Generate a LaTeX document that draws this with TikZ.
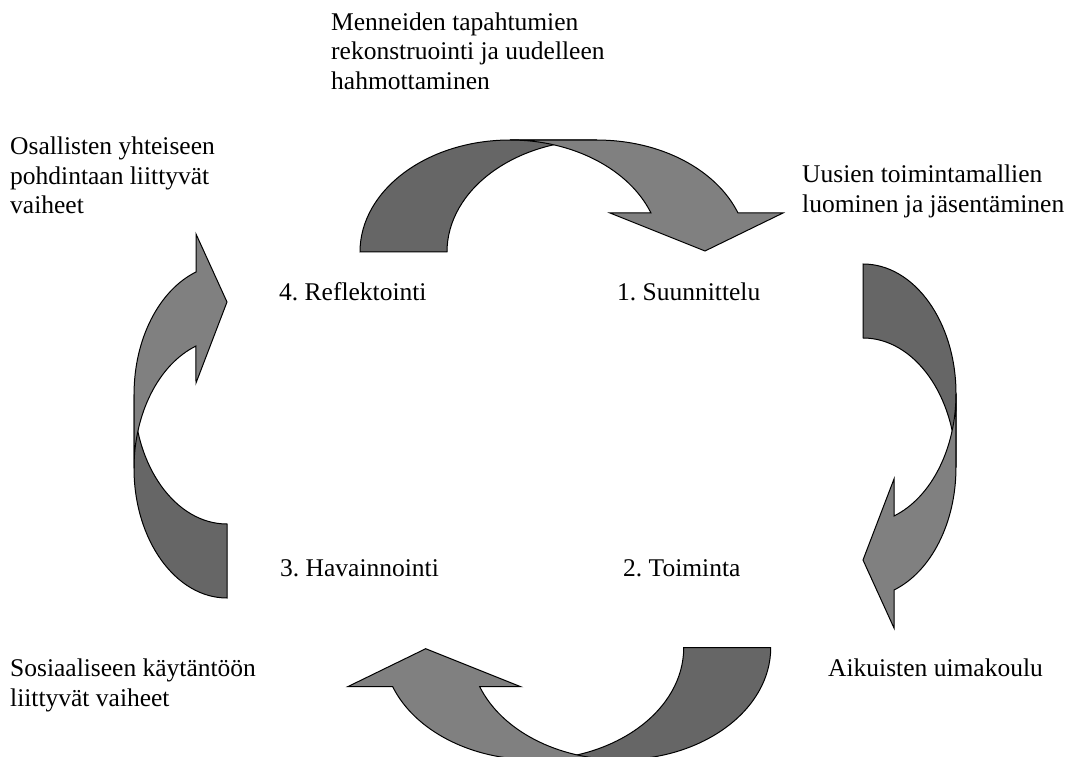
\documentclass[tikz,border=0pt]{standalone}
\usepackage{fontspec}
\setmainfont{Liberation Serif}
\definecolor{darkfill}{RGB}{102,102,102}
\definecolor{lightfill}{RGB}{128,128,128}
\frenchspacing
\begin{document}
\begin{tikzpicture}[x=1pt,y=1pt,
  darkband/.style={fill=darkfill,draw=black,line width=1pt,line join=miter},
  lightband/.style={fill=lightfill,draw=black,line width=1pt,line join=miter},
  lbl/.style={font={\fontsize{25.5}{29.5}\selectfont},inner sep=0pt,align=left,anchor=base west}]
\useasboundingbox (0,0) rectangle (1066,756);
\clip (0,0) rectangle (1066,756);

% top arrow (curved down): ellipses rx=150.2, ry=112
\draw[darkband] (510.2,616) arc[start angle=90,end angle=180,x radius=150.2,y radius=112]
  -- (447,504) arc[start angle=180,end angle=90,x radius=150.2,y radius=112] -- cycle;
\draw[lightband] (510.2,616) arc[start angle=90,end angle=20.4,x radius=150.2,y radius=112]
  -- (610,543) -- (705,505) -- (783,543) -- (738,543)
  arc[start angle=20.4,end angle=90,x radius=150.2,y radius=112] -- cycle;

% right arrow (curved left): ellipses rx=93, ry=129.7
\draw[darkband] (956,362.3) arc[start angle=0,end angle=90,x radius=93,y radius=129.7]
  -- (863,418) arc[start angle=90,end angle=0,x radius=93,y radius=129.7] -- cycle;
\draw[lightband] (956,362.3) arc[start angle=0,end angle=-70.5,x radius=93,y radius=129.7]
  -- (894,277) -- (863,196) -- (894,128) -- (894,166)
  arc[start angle=-70.5,end angle=0,x radius=93,y radius=129.7] -- cycle;

% bottom arrow (curved up)
\draw[darkband] (620.5,-3.7) arc[start angle=270,end angle=360,x radius=150.2,y radius=112]
  -- (683.7,108.3) arc[start angle=360,end angle=270,x radius=150.2,y radius=112] -- cycle;
\draw[lightband] (620.5,-3.7) arc[start angle=270,end angle=200.4,x radius=150.2,y radius=112]
  -- (520.7,69.3) -- (425.7,107.3) -- (347.7,69.3) -- (392.7,69.3)
  arc[start angle=200.4,end angle=270,x radius=150.2,y radius=112] -- cycle;

% left arrow (curved right)
\draw[darkband] (134,287.7) arc[start angle=180,end angle=270,x radius=93,y radius=129.7]
  -- (227,232) arc[start angle=270,end angle=180,x radius=93,y radius=129.7] -- cycle;
\draw[lightband] (134,287.7) arc[start angle=180,end angle=109.5,x radius=93,y radius=129.7]
  -- (196,373) -- (227,454) -- (196,522) -- (196,484)
  arc[start angle=109.5,end angle=180,x radius=93,y radius=129.7] -- cycle;

% texts (anchor = baseline of the last line)
\node[lbl] (menneiden) at (331,666.5) {Menneiden tapahtumien\\rekonstruointi ja uudelleen\\hahmottaminen};
\node[lbl] (osallisten) at (10,542) {Osallisten yhteiseen\\pohdintaan liittyvät\\vaiheet};
\node[lbl] (uusien) at (802,543.5) {Uusien toimintamallien\\luominen ja jäsentäminen};
\node[lbl] (reflektointi) at (279,455) {4. Reflektointi};
\node[lbl] (suunnittelu) at (617,455) {1. Suunnittelu};
\node[lbl] (havainnointi) at (280,180) {3. Havainnointi};
\node[lbl] (toiminta) at (623,180) {2. Toiminta};
\node[lbl] (sosiaaliseen) at (10,50) {Sosiaaliseen käytäntöön\\liittyvät vaiheet};
\node[lbl] (aikuisten) at (828,80) {Aikuisten uimakoulu};
\end{tikzpicture}
\end{document}
